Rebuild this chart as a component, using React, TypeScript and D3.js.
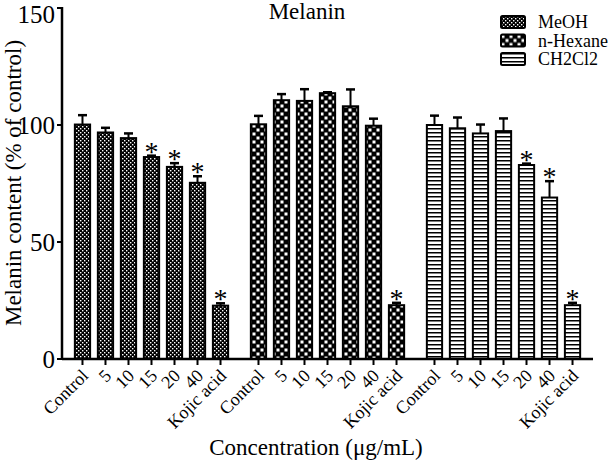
import React from "react";
import { scaleBand, scaleLinear } from "d3";

const groups = ["MeOH", "n-Hexane", "CH2Cl2"];
const doses = ["Control", "5", "10", "15", "20", "40", "Kojic acid"];

const meohMean = [100.2, 96.8, 94.4, 86.3, 82.1, 75.3, 22.8];
const meohErr = [4, 2, 2, 0.6, 1.6, 2.8, 1];
const meohStar = [false, false, false, true, true, true, true];

const hexaneMean = [100.3, 110.6, 110.3, 113.6, 108, 99.7, 23];
const hexaneErr = [3.6, 2.6, 5, 0.4, 7.2, 3, 1];
const hexaneStar = [false, false, false, false, false, false, true];

const dcmMean = [100, 98.6, 96.4, 97.4, 82.9, 69, 23];
const dcmErr = [4, 4.6, 3.8, 5.4, 0.6, 7, 1];
const dcmStar = [false, false, false, false, true, true, true];

const yTicks = [0, 50, 100, 150];

const series = [
  { name: groups[0], mean: meohMean, err: meohErr, star: meohStar, fill: "url(#pMeoh)" },
  { name: groups[1], mean: hexaneMean, err: hexaneErr, star: hexaneStar, fill: "url(#pHex)" },
  { name: groups[2], mean: dcmMean, err: dcmErr, star: dcmStar, fill: "url(#pDcm)" },
];

const font = "'Liberation Serif', 'Times New Roman', serif";

export default function App() {
  const W = 608, H = 463;
  const x0 = 62, x1 = 593;
  const y = scaleLinear().domain([0, 150]).range([359, 8]);
  const outer = scaleBand<string>().domain(groups).range([x0, x1]).paddingInner(0.085).paddingOuter(0.051);
  const inner = scaleBand<string>().domain(doses).range([0, outer.bandwidth()]).paddingInner(0.25).paddingOuter(0.125);
  const bw = inner.bandwidth();

  return (
    <svg width={W} height={H} style={{ position: "absolute", left: 0, top: 0, background: "#fff" }} fontFamily={font}>
      <defs>
        <pattern id="pMeoh" width="4" height="4" patternUnits="userSpaceOnUse">
          <rect width="4" height="4" fill="#000" />
          <rect x="0" y="0" width="1.4" height="1.4" fill="#fff" />
          <rect x="2" y="2" width="1.4" height="1.4" fill="#fff" />
        </pattern>
        <pattern id="pHex" width="8" height="8" patternUnits="userSpaceOnUse">
          <rect width="8" height="8" fill="#000" />
          <rect x="0.5" y="0.5" width="3" height="3" fill="#fff" />
          <rect x="4.5" y="4.5" width="3" height="3" fill="#fff" />
        </pattern>
        <pattern id="pDcm" width="4" height="4" patternUnits="userSpaceOnUse">
          <rect width="4" height="4" fill="#fff" />
          <rect x="0" y="0" width="4" height="1.5" fill="#000" />
        </pattern>
      </defs>

      <text x={307} y={19} fontSize={23} textAnchor="middle">Melanin</text>

      {series.map((s) => (
        <g key={s.name}>
          {doses.map((d, i) => {
            const cx = (outer(s.name) ?? 0) + (inner(d) ?? 0) + bw / 2;
            const top = y(s.mean[i]);
            const cap = y(s.mean[i] + s.err[i]);
            return (
              <g key={d}>
                <line x1={cx} x2={cx} y1={top} y2={cap} stroke="#000" strokeWidth={2} />
                <line x1={cx - 4.5} x2={cx + 4.5} y1={cap} y2={cap} stroke="#000" strokeWidth={2.5} />
                <rect x={cx - bw / 2 + 1} y={top} width={bw - 2} height={y(0) - top} fill={s.fill} stroke="#000" strokeWidth={2} />
                {s.star[i] && (
                  <text x={cx} y={cap + 5} fontSize={28} textAnchor="middle">*</text>
                )}
              </g>
            );
          })}
        </g>
      ))}

      {/* y axis */}
      <line x1={x0} x2={x0} y1={y(150) - 1} y2={y(0) + 1} stroke="#000" strokeWidth={2.5} />
      {yTicks.map((t) => (
        <g key={t}>
          <line x1={x0 - 5} x2={x0} y1={y(t)} y2={y(t)} stroke="#000" strokeWidth={2} />
          <text x={x0 - 7} y={y(t)} dy={t === 150 ? "0.6em" : "0.35em"} fontSize={25} textAnchor="end">{t}</text>
        </g>
      ))}
      <text transform={`translate(21,183) rotate(-90)`} fontSize={23} textAnchor="middle">
        Melanin content (% of control)
      </text>

      {/* x axis */}
      <line x1={x0} x2={x1} y1={y(0)} y2={y(0)} stroke="#000" strokeWidth={2.5} />
      {groups.map((g) =>
        doses.map((d) => {
          const cx = (outer(g) ?? 0) + (inner(d) ?? 0) + bw / 2;
          return (
            <g key={g + d}>
              <line x1={cx} x2={cx} y1={y(0)} y2={y(0) + 6} stroke="#000" strokeWidth={2} />
              <text transform={`translate(${cx + 3},${y(0) + 14}) rotate(-45)`} fontSize={18} textAnchor="end" dy="0.3em">
                {d}
              </text>
            </g>
          );
        })
      )}
      <text x={316} y={455} fontSize={23} textAnchor="middle">Concentration (μg/mL)</text>

      {/* legend */}
      {series.map((s, i) => (
        <g key={s.name} transform={`translate(501,${16 + i * 18.5})`}>
          <rect x={0} y={0} width={24} height={12} rx={1.5} fill={s.fill} stroke="#000" strokeWidth={2} />
          <text x={37} y={6} dy="0.35em" fontSize={18}>{s.name}</text>
        </g>
      ))}
    </svg>
  );
}
